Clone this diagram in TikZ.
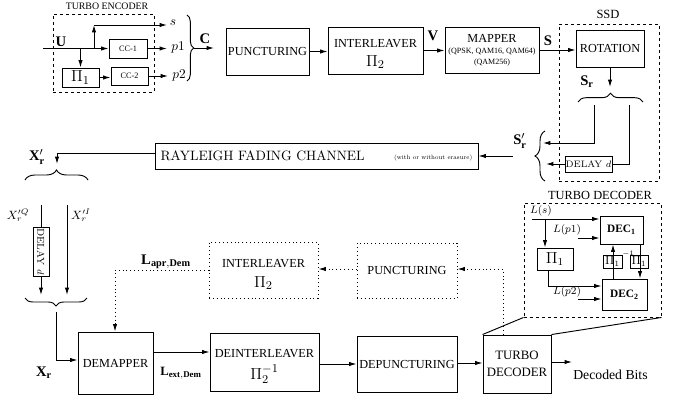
\documentclass[tikz,border=0pt]{standalone}
\usepackage{fontspec}
\setmainfont{Liberation Serif}
\usetikzlibrary{arrows.meta,decorations.pathreplacing,calc}
\newcommand\cmfont{\fontfamily{lmr}\selectfont}
\newcommand\myfs[1]{\fontsize{#1}{#1}\selectfont}
\newcommand\pbox[7][]{\node[box,minimum width={(#5-#3)*0.75pt},minimum height={(#6-#4)*0.75pt},#1] (#2) at ({(#3+#5)/2},{(#4+#6)/2}) {#7};}
\tikzset{
 box/.style={draw, line width=0.7pt, inner sep=0pt, align=center, font=\myfs{9.2}},
 dbox/.style={box, dash pattern=on 2.5pt off 2pt},
 obox/.style={box, dash pattern=on 0.7pt off 2.2pt},
 arr/.style={-{Latex[length=5.5pt,width=3.2pt]}, line width=0.7pt},
 ln/.style={line width=0.7pt},
 dotarr/.style={arr, dash pattern=on 0.7pt off 2.2pt},
 lbl/.style={inner sep=0pt},
 btxt/.style={inner sep=0pt, font=\myfs{9.2}},
 ptxt/.style={inner sep=0pt, font=\myfs{13}},
 brc/.style={decorate, decoration={brace, amplitude=#1}, line width=0.7pt},
}
\begin{document}
\begin{tikzpicture}[x=0.75pt,y=-0.75pt]
\useasboundingbox (0,0) rectangle (678,396);
% ---------------- turbo encoder
\pbox[dbox]{enc}{53}{14}{154}{92}{}
\node[lbl,font=\myfs{7.4}] (enct) at (107,6) {TURBO ENCODER};
\pbox[font=\myfs{6.2}]{cc1}{109}{39}{147}{58}{CC-1}
\pbox[font=\myfs{13}]{pia}{62}{68}{99}{87}{$\Pi_1$}
\pbox[font=\myfs{6.2}]{cc2}{111}{67}{148}{85}{CC-2}
\coordinate (uin) at (43,48.5);
\coordinate (j1) at (80.5,48.5);
\coordinate (j2) at (94,48.5);
\coordinate (stop) at (94,25);
\coordinate (send) at (167,25);
\coordinate (p1end) at (167,48.5);
\coordinate (p2end) at (168,76);
\draw[arr] (uin) -- (cc1.west);
\draw[arr] (j1) -- (pia.north);
\draw[arr] (j2) -- (stop);
\draw[arr] (stop) -- (send);
\draw[arr] (cc1.east) -- (p1end);
\draw[arr] (pia.east) -- (pia.east -| cc2.west);
\draw[arr] (cc2.east) -- (p2end);
\node[lbl,font=\myfs{10}] (ls) at (173,23) {$s$};
\node[lbl,font=\myfs{10}] (lp1) at (178,47) {$p1$};
\node[lbl,font=\myfs{10}] (lp2) at (179,75) {$p2$};
\node[lbl,font=\myfs{11}] (lu) at (61,42) {$\mathbf{U}$};
\draw[brc=5pt] (187,15) -- (187,81);
\coordinate (ctip) at (194,48);
\coordinate (cend) at (214,48);
\draw[arr] (ctip) -- (cend);
\node[lbl,font=\myfs{11}] (lc) at (205,39) {$\mathbf{C}$};
% ---------------- top row
\pbox{punct}{226}{28}{309}{75}{PUNCTURING}
\pbox{inter}{328}{27}{423}{74}{}
\node[btxt] (intert) at (375.5,44) {INTERLEAVER};
\node[ptxt] (interp) at (375.5,62) {$\Pi_2$};
\pbox{mapper}{445}{27}{539}{73}{MAPPER\\[-1pt]{\myfs{6}(QPSK, QAM16, QAM64)}\\[-1pt]{\myfs{6}(QAM256)}}
\draw[arr] (punct.east) -- (punct.east -| inter.west);
\draw[arr] (inter.east) -- (inter.east -| mapper.west);
\node[lbl,font=\myfs{11}] (lv) at (433,36) {$\mathbf{V}$};
% ---------------- SSD
\pbox[dbox]{ssd}{559}{24}{659}{181}{}
\node[lbl,font=\myfs{9.4}] (ssdt) at (608,14) {SSD};
\pbox{rot}{576}{30}{644}{67}{ROTATION}
\draw[arr] (mapper.east) -- (mapper.east -| rot.west);
\node[lbl,font=\myfs{11}] (ls2) at (548,41) {$\mathbf{S}$};
\coordinate (srtip) at (610,87);
\draw[arr] (rot.south -| srtip) -- (srtip);
\draw[brc=6.5pt] (578,102) -- (643,102);
\node[lbl,font=\myfs{11}] (lsr) at (587,82) {$\mathbf{S_r}$};
\pbox[font=\cmfont\myfs{7}]{dls}{565}{156}{612}{172}{DELAY $d$}
\coordinate (sl1) at (594,105);
\coordinate (sl2) at (594,143);
\coordinate (sl3) at (543,143);
\coordinate (sr1) at (629,105);
\coordinate (sr2) at (629,164);
\coordinate (sdl) at (546,164);
\draw[arr] (sl1) -- (sl2) -- (sl3);
\draw[ln] (sr1) -- (sr2) -- (dls.east);
\draw[arr] (dls.west) -- (sdl);
\draw[brc=7.5pt] (545,181) -- (545,131);
\node[lbl,font=\myfs{11}] (lsrp) at (520,141) {$\mathbf{S}'_{\mathbf{r}}$};
% ---------------- channel
\pbox[font=\cmfont\myfs{10.2}]{chan}{155}{143}{478}{169}{RAYLEIGH FADING CHANNEL\hspace{22pt}\raisebox{0.8pt}{\scalebox{0.66}{\myfs{7}(with or without erasure)}}}
\coordinate (chs) at (513,156);
\draw[arr] (chs) -- (chan.east);
\coordinate (ch1) at (155,153);
\coordinate (ch2) at (57,153);
\coordinate (ch3) at (57,164);
\draw[arr] (ch1) -- (ch2) -- (ch3);
\node[lbl,font=\myfs{11}] (lxrp) at (37,157) {$\mathbf{X}'_{\mathbf{r}}$};
\draw[brc=7.5pt] (25,180) -- (88,180);
\node[lbl,font=\myfs{9}] (lxq) at (18,215) {$X_r'^Q$};
\node[lbl,font=\myfs{9}] (lxi) at (81,215) {$X_r'^I$};
\node[box,font=\cmfont\myfs{7.5},rotate=-90,minimum width={49*0.75pt},minimum height={16*0.75pt}] (dlx) at (41,251.5) {DELAY $d$};
\coordinate (xl1) at (41,205);
\coordinate (xl2) at (41,295);
\coordinate (xr1) at (67,205);
\coordinate (xr2) at (67,295);
\draw[ln] (xl1) -- (dlx.west);
\draw[arr] (dlx.east) -- (xl2);
\draw[arr] (xr1) -- (xr2);
\draw[brc=6pt] (87,298) -- (25,298);
% ---------------- bottom row
\pbox{demap}{78}{332}{153}{394}{DEMAPPER}
\pbox{deint}{210}{333}{319}{391}{}
\node[btxt] (deintt) at (264.5,354) {DEINTERLEAVER};
\node[ptxt] (deintp) at (264.5,374) {$\Pi_2^{-1}$};
\pbox{depunct}{357}{336}{457}{392}{DEPUNCTURING}
\pbox[font=\myfs{9.6}]{tdec}{483}{335}{551}{393}{TURBO\\[3pt]DECODER}
\coordinate (xb1) at (56,312);
\coordinate (xb2) at (56,360);
\draw[arr] (xb1) -- (xb2) -- (xb2 -| demap.west);
\node[lbl,font=\myfs{11}] (lxr) at (44,373) {$\mathbf{X_r}$};
\coordinate (dm1) at (153,352);
\draw[arr] (dm1) -- (dm1 -| deint.west);
\node[lbl,font=\myfs{9.5}] (llext) at (181,373) {$\mathbf{L_{ext,Dem}}$};
\draw[arr] (deint.east |- 0,364) -- (depunct.west |- 0,364);
\draw[arr] (depunct.east |- 0,363) -- (tdec.west |- 0,363);
\coordinate (dbout) at (572,362);
\draw[arr] (tdec.east |- dbout) -- (dbout);
\node[lbl,anchor=west,font=\myfs{10.3}] (ldb) at (573,375) {Decoded Bits};
% ---------------- dotted feedback
\pbox[obox]{inter2}{209}{242}{318}{298}{}
\node[btxt] (inter2t) at (263.5,264) {INTERLEAVER};
\node[ptxt] (inter2p) at (263.5,283) {$\Pi_2$};
\pbox[obox]{punct2}{357}{243}{457}{298}{PUNCTURING}
\draw[dotarr] (punct2.west |- 0,269) -- (inter2.east |- 0,269);
\coordinate (fb1) at (503,269);
\draw[dotarr] (tdec.north -| fb1) -- (fb1) -- (fb1 -| punct2.east);
\coordinate (fa1) at (115,270);
\draw[dotarr] (inter2.west |- fa1) -- (fa1) -- (fa1 |- demap.north);
\node[lbl,font=\myfs{11}] (llapr) at (166,262) {$\mathbf{L_{apr,Dem}}$};
% ---------------- turbo decoder detail
\pbox[dbox]{tdd}{524}{203}{661}{317}{}
\node[lbl,font=\myfs{9.3}] (tddt) at (600,195) {TURBO DECODER};
\draw[ln] (tdd.south west) -- (tdec.north west);
\draw[ln] (tdd.south east) -- (tdec.north east);
\pbox[font=\myfs{8.5}]{dec1}{600}{216}{643}{244}{$\mathbf{DEC_1}$}
\pbox[font=\myfs{8.5}]{dec2}{602}{279}{647}{310}{$\mathbf{DEC_2}$}
\pbox[font=\myfs{12}]{pib}{537}{248}{573}{270}{$\Pi_1$}
\pbox[font=\myfs{9}]{pinv}{603}{255}{622}{268}{$\Pi_1$}
\pbox[font=\myfs{9}]{pis}{630}{255}{648}{268}{$\Pi_1$}
\node[lbl,font=\myfs{4.5},anchor=south west] (pinvs) at (622,257) {$-1$};
\coordinate (dls1) at (532,219);
\coordinate (dlsj) at (545,219);
\draw[arr] (dls1) -- (dls1 -| dec1.west);
\draw[arr] (dlsj) -- (dlsj |- pib.north);
\node[lbl,font=\myfs{8}] (lls) at (541,211) {$L(s)$};
\coordinate (dp1) at (578,238);
\draw[arr] (dp1) -- (dp1 -| dec1.west);
\node[lbl,font=\myfs{8}] (llp1) at (567,230) {$L(p1)$};
\coordinate (pb1) at (548,270);
\coordinate (pb2) at (548,286);
\draw[arr] (pb1) -- (pb2) -- (pb2 -| dec2.west);
\coordinate (dp2) at (578,299);
\draw[arr] (dp2) -- (dp2 -| dec2.west);
\node[lbl,font=\myfs{8}] (llp2) at (567,292) {$L(p2)$};
\coordinate (vx1) at (613,279);
\draw[arr] (vx1) -- (vx1 |- dec1.south);
\coordinate (vx2) at (640,244);
\draw[arr] (vx2) -- (vx2 |- dec2.north);
\end{tikzpicture}
\end{document}
